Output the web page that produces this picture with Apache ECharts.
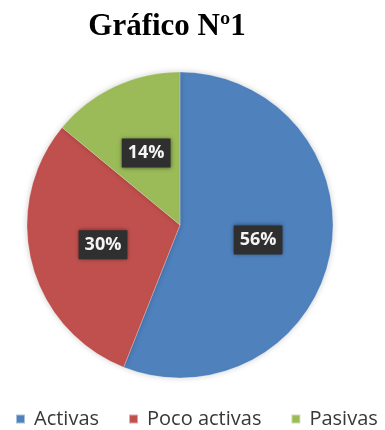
<!DOCTYPE html>
<html>
<head>
<meta charset="utf-8">
<script src="https://cdn.jsdelivr.net/npm/echarts@6/dist/echarts.min.js"></script>
<style>
  html, body { margin: 0; padding: 0; background: #ffffff; }
  #chart { width: 385px; height: 430px; }
</style>
</head>
<body>
<div id="chart"></div>
<script>
// Activity levels (percent of total)
const categories = ['Activas', 'Poco activas', 'Pasivas'];
const values = [56, 30, 14];
const colors = ['#4F81BD', '#C0504D', '#9BBB59'];
const titleText = 'Gráfico Nº1';

const chart = echarts.init(document.getElementById('chart'), null, { renderer: 'canvas' });

const pieData = categories.map((name, i) => ({
  name: name,
  value: values[i],
  itemStyle: { color: colors[i] }
}));

chart.setOption({
  animation: false,
  backgroundColor: '#ffffff',
  graphic: [{
    type: 'text',
    x: 167,
    y: 27,
    style: {
      text: titleText,
      fontFamily: '"Liberation Serif", "DejaVu Serif", serif',
      fontWeight: 'bold',
      fontSize: 31,
      fill: '#000000',
      align: 'center',
      verticalAlign: 'middle'
    }
  }],
  legend: {
    data: categories,
    left: 15,
    top: 409,
    padding: 0,
    itemWidth: 9,
    itemHeight: 9,
    itemGap: 29,
    icon: 'rect',
    textStyle: {
      fontFamily: '"Open Sans", sans-serif',
      fontSize: 20,
      color: '#383838',
      padding: [0, 0, 0, 4]
    }
  },
  series: [{
    type: 'pie',
    center: [180, 225],
    radius: [0, 153],
    startAngle: 90,
    clockwise: true,
    data: pieData,
    itemStyle: {
      borderColor: 'rgba(255,255,255,0.5)',
      borderWidth: 0.5,
      shadowBlur: 6,
      shadowColor: 'rgba(0,0,0,0.18)'
    },
    label: {
      show: true,
      position: 'inside',
      formatter: '{c}%',
      fontFamily: '"Open Sans", sans-serif',
      fontWeight: 'bold',
      fontSize: 18,
      color: '#f4f4f4',
      backgroundColor: '#2f2f2f',
      padding: [6, 6, 5, 6],
      shadowBlur: 4,
      shadowColor: 'rgba(0,0,0,0.5)'
    },
    labelLine: { show: false },
    emphasis: { disabled: true }
  }]
});
</script>
</body>
</html>
